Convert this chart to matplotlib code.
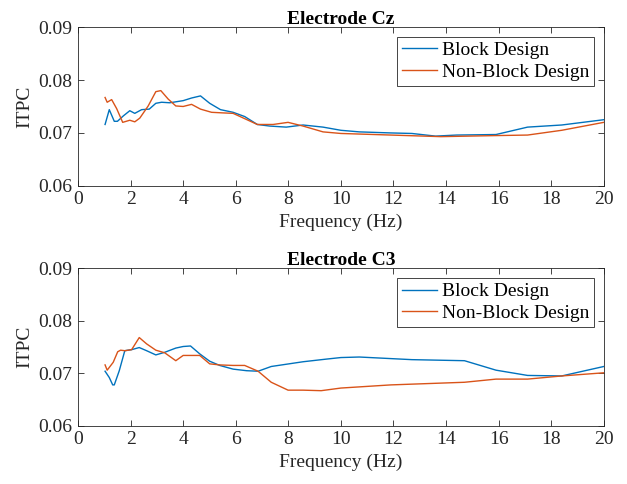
import numpy as np
import matplotlib.pyplot as plt

plt.rcParams['font.family'] = ['Liberation Serif', 'DejaVu Serif']

# Electrode Cz
cz_block_f = [1.03, 1.19, 1.38, 1.5, 1.72, 1.97, 2.16, 2.42, 2.71, 2.96, 3.18, 3.49, 4.0, 4.32,
              4.66, 5.01, 5.42, 5.9, 6.34, 6.82, 7.29, 7.92, 8.56, 9.32, 10.0, 10.7, 11.9,
              12.7, 13.6, 14.4, 15.9, 17.1, 18.4, 20.0]
cz_block = [0.0716, 0.0744, 0.0722, 0.0722, 0.0732, 0.0742, 0.0737, 0.0744, 0.0745, 0.0756,
            0.0758, 0.0757, 0.0761, 0.0766, 0.0770, 0.0756, 0.0744, 0.0739, 0.0731, 0.0716,
            0.0713, 0.0711, 0.0715, 0.0711, 0.0705, 0.0702, 0.0700, 0.0699, 0.0694, 0.0696,
            0.0697, 0.0711, 0.0715, 0.0725]
cz_nonblock_f = [1.03, 1.11, 1.28, 1.47, 1.7, 1.97, 2.16, 2.35, 2.67, 2.96, 3.15, 3.43, 3.72,
                 4.0, 4.32, 4.66, 5.08, 5.46, 5.9, 6.34, 6.82, 7.42, 7.99, 8.56, 9.32, 10.0,
                 11.9, 13.8, 15.9, 17.1, 18.4, 20.0]
cz_nonblock = [0.0767, 0.0758, 0.0763, 0.0746, 0.0720, 0.0724, 0.0721, 0.0728, 0.0751, 0.0778,
               0.0780, 0.0764, 0.0751, 0.0750, 0.0754, 0.0745, 0.0739, 0.0738, 0.0737, 0.0727,
               0.0716, 0.0716, 0.0720, 0.0713, 0.0702, 0.0699, 0.0696, 0.0693, 0.0695, 0.0696,
               0.0705, 0.0720]

# Electrode C3
c3_block_f = [1.03, 1.19, 1.32, 1.38, 1.57, 1.78, 2.04, 2.33, 2.61, 2.96, 3.3, 3.72, 4.0, 4.28,
              4.63, 5.01, 5.39, 5.9, 6.41, 6.85, 7.35, 8.56, 9.44, 10.0, 10.7, 12.7, 14.7,
              15.9, 17.1, 18.4, 20.0]
c3_block = [0.0704, 0.0692, 0.0678, 0.0678, 0.0705, 0.0743, 0.0745, 0.0749, 0.0743, 0.0735,
            0.0740, 0.0748, 0.0751, 0.0752, 0.0737, 0.0723, 0.0715, 0.0708, 0.0705, 0.0704,
            0.0713, 0.0722, 0.0727, 0.0730, 0.0731, 0.0726, 0.0724, 0.0706, 0.0696, 0.0695,
            0.0713]
c3_nonblock_f = [1.03, 1.11, 1.34, 1.51, 1.62, 1.78, 2.04, 2.33, 2.61, 2.96, 3.3, 3.72, 4.0,
                 4.32, 4.63, 5.01, 5.39, 5.9, 6.34, 6.85, 7.35, 7.99, 8.56, 9.25, 10.0, 11.9,
                 14.7, 15.9, 17.1, 18.4, 20.0]
c3_nonblock = [0.0716, 0.0706, 0.0721, 0.0741, 0.0744, 0.0743, 0.0745, 0.0768, 0.0756, 0.0744,
               0.0739, 0.0724, 0.0734, 0.0734, 0.0734, 0.0718, 0.0716, 0.0715, 0.0715, 0.0704,
               0.0683, 0.0668, 0.0668, 0.0667, 0.0672, 0.0678, 0.0683, 0.0689, 0.0689, 0.0695,
               0.0701]

blue = '#0072BD'
orange = '#D95319'
axcol = '#262626'

fig = plt.figure(figsize=(6.27, 4.84), dpi=100)
ax1 = fig.add_axes([0.1244, 0.616, 0.8386, 0.328])
ax2 = fig.add_axes([0.1244, 0.120, 0.8386, 0.326])

panels = [
    (ax1, 'Electrode Cz', cz_block_f, cz_block, cz_nonblock_f, cz_nonblock),
    (ax2, 'Electrode C3', c3_block_f, c3_block, c3_nonblock_f, c3_nonblock),
]

for ax, title, bf, bv, nf, nv in panels:
    ax.plot(bf, bv, color=blue, lw=1.0, label='Block Design')
    ax.plot(nf, nv, color=orange, lw=1.0, label='Non-Block Design')
    ax.set_xlim(0, 20)
    ax.set_ylim(0.06, 0.09)
    ax.set_xticks(np.arange(0, 21, 2))
    ax.set_yticks([0.06, 0.07, 0.08, 0.09])
    ax.set_yticklabels(['0.06', '0.07', '0.08', '0.09'])
    ax.tick_params(direction='in', top=True, right=True, labelsize=14, length=4, width=0.6,
                   color=axcol, labelcolor=axcol, pad=4)
    for s in ax.spines.values():
        s.set_linewidth(0.6)
        s.set_color(axcol)
    ax.set_title(title, fontsize=14, fontweight='bold', pad=2)
    ax.set_xlabel('Frequency (Hz)', fontsize=14, color=axcol, labelpad=4)
    ax.set_ylabel('ITPC', fontsize=14, color=axcol, labelpad=4)
    leg = ax.legend(loc='upper right', fontsize=14, fancybox=False, edgecolor=axcol,
                    framealpha=1, borderpad=0.25, handlelength=1.8, handletextpad=0.25,
                    labelspacing=0.2, borderaxespad=0.5)
    leg.get_frame().set_linewidth(0.6)

fig.savefig('out.png', dpi=100)
